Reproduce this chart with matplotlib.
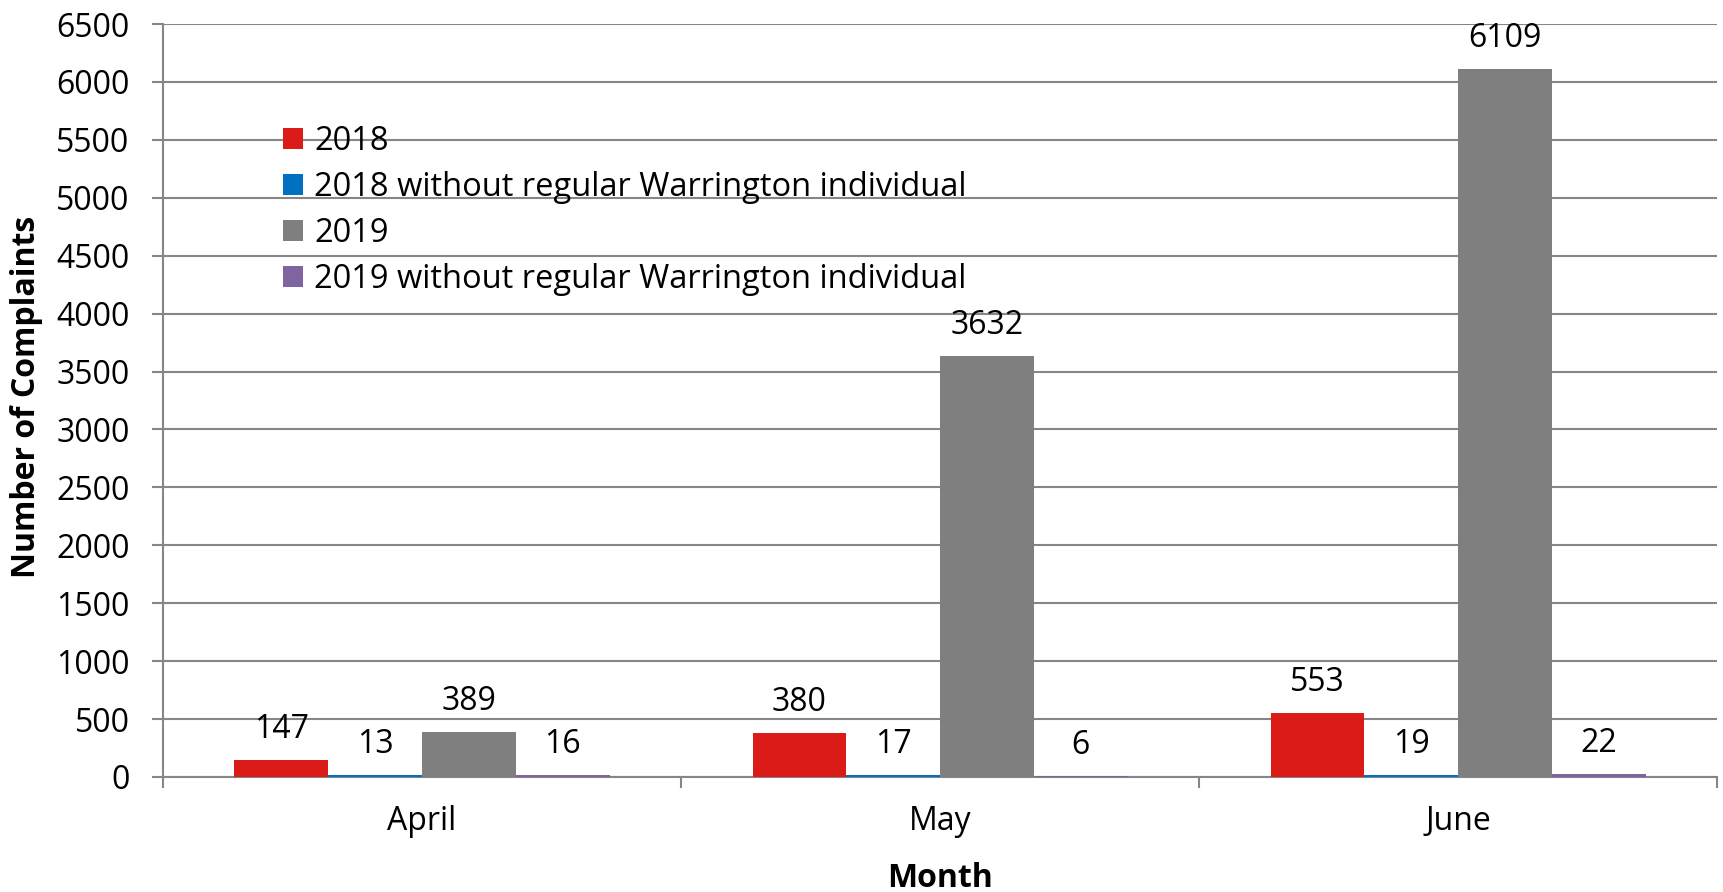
import numpy as np
import matplotlib
matplotlib.use('Agg')
import matplotlib.pyplot as plt

plt.rcParams['font.family'] = ['Open Sans', 'DejaVu Sans']

months = ['April', 'May', 'June']
series_names = ['2018', '2018 without regular Warrington individual',
                '2019', '2019 without regular Warrington individual']
v2018 = [147, 380, 553]
v2018_wo = [13, 17, 19]
v2019 = [389, 3632, 6109]
v2019_wo = [16, 6, 22]
colors = ['#da1b17', '#0070c0', '#7f7f7f', '#8064a2']

fig = plt.figure(figsize=(17.23, 8.92), dpi=100)
ax = fig.add_axes([0.0946, 0.129, 0.902, 0.844])

x = np.arange(len(months))
w = 0.181
allvals = [v2018, v2018_wo, v2019, v2019_wo]
for i, vals in enumerate(allvals):
    pos = x + (i - 1.5) * w
    bars = ax.bar(pos, vals, width=w, color=colors[i], label=series_names[i], zorder=3)
    for b, v in zip(bars, vals):
        ax.annotate(str(v), (b.get_x() + b.get_width() / 2, v), xytext=(0, 22),
                    textcoords='offset points', ha='center', va='center', fontsize=23)

ax.set_xlim(-0.5, 2.5)
ax.set_ylim(0, 6500)
ax.set_yticks(np.arange(0, 6501, 500))
ax.yaxis.grid(True, color='#868686', lw=1.5, zorder=0)
ax.set_axisbelow(True)

ax.set_xticks(x)
ax.set_xticklabels(months, fontsize=23)
ax.set_xticks([-0.5, 0.5, 1.5, 2.5], minor=True)
ax.tick_params(axis='x', which='major', length=0, pad=20)
ax.tick_params(axis='x', which='minor', length=8, width=1.5, color='#868686')
ax.tick_params(axis='y', labelsize=23, length=8, width=1.5, color='#868686', pad=16)

for s in ['top', 'right']:
    ax.spines[s].set_visible(False)
for s in ['left', 'bottom']:
    ax.spines[s].set_color('#868686')
    ax.spines[s].set_linewidth(1.5)

ax.set_xlabel('Month', fontsize=23, fontweight='bold')
ax.xaxis.set_label_coords(0.5, -0.113)
ax.set_ylabel('Number of Complaints', fontsize=23, fontweight='bold')
ax.yaxis.set_label_coords(-0.077, 0.505)

leg = ax.legend(loc='upper left', bbox_to_anchor=(0.0772, 0.866), frameon=False,
                fontsize=23.5, handlelength=0.6, handleheight=0.6, handletextpad=0.35,
                labelspacing=0.4, borderpad=0, borderaxespad=0)

fig.savefig('out.png', dpi=100)
